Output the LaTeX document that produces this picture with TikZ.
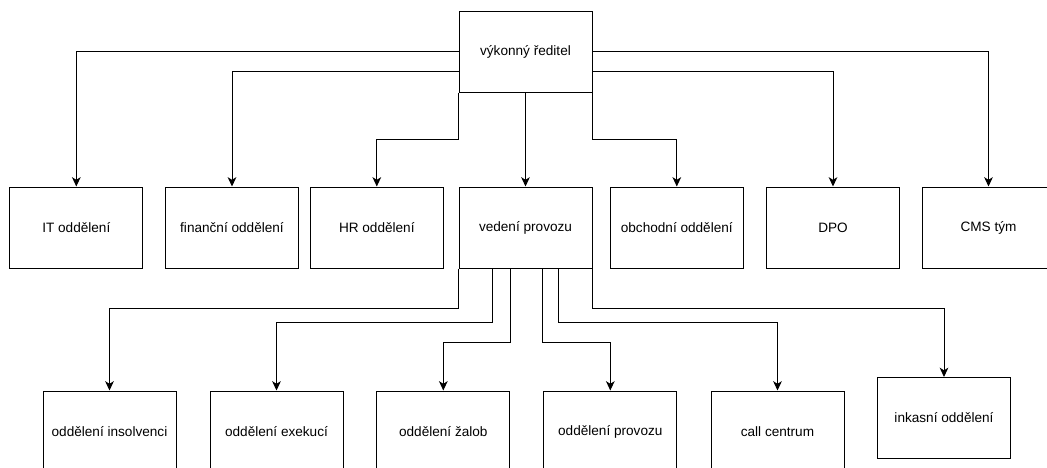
\documentclass[tikz,border=0pt]{standalone}
\usepackage{fontspec}
\setmainfont{Liberation Sans}
\usetikzlibrary{arrows.meta,calc}
\begin{document}
\begin{tikzpicture}[x=0.75pt,y=-0.75pt,
  box/.style={draw=black,line width=0.75pt,minimum width=99.75pt,minimum height=60.75pt,inner sep=0pt,font=\fontsize{10.2pt}{12pt}\selectfont,fill=white},
  arr/.style={draw=black,line width=0.75pt,-{Stealth[length=7pt,width=6.5pt,inset=2pt]}}]
\useasboundingbox (0,0) rectangle (1047,468);
\node[box] (top) at (525.5,51.5) {výkonný ředitel};
\node[box] (it) at (76.3,227.5) {IT oddělení};
\node[box] (fin) at (232,227.5) {finanční oddělení};
\node[box] (hr) at (376.8,227.5) {HR oddělení};
\node[box] (ved) at (525.5,227.5) {vedení provozu};
\node[box] (obch) at (676.8,227.5) {obchodní oddělení};
\node[box] (dpo) at (833,227.5) {DPO};
\node[box] (cms) at (988.5,227.5) {CMS tým};
\node[box] (ins) at (109.5,431.5) {oddělení insolvenci};
\node[box] (exe) at (276.5,431.5) {oddělení exekucí};
\node[box] (zal) at (443.3,431.5) {oddělení žalob};
\node[box] (prov) at (610.3,431.5) {oddělení provozu};
\node[box] (call) at (777.5,431.5) {call centrum};
\node[box] (ink) at (944,418) {inkasní oddělení};
% top level connectors
\draw[arr] (top.west) -| (it.north);
\draw[arr] ([yshift=-15pt]top.west) -| (fin.north);
\draw[arr] (top.south west) -- ++(0,47) -| (hr.north);
\draw[arr] (top.south) -- (ved.north);
\draw[arr] (top.south east) -- ++(0,47) -| (obch.north);
\draw[arr] ([yshift=-15pt]top.east) -| (dpo.north);
\draw[arr] (top.east) -| (cms.north);
% second level connectors
\draw[arr] (ved.south west) -- ++(0,40) -| (ins.north);
\draw[arr] ($(ved.south west)+(34,0)$) -- ++(0,54) -| (exe.north);
\draw[arr] ($(ved.south west)+(51.5,0)$) -- ++(0,74) -| (zal.north);
\draw[arr] ($(ved.south west)+(84,0)$) -- ++(0,74) -| (prov.north);
\draw[arr] ($(ved.south west)+(100,0)$) -- ++(0,54) -| (call.north);
\draw[arr] (ved.south east) -- ++(0,40) -| (ink.north);
\end{tikzpicture}
\end{document}
